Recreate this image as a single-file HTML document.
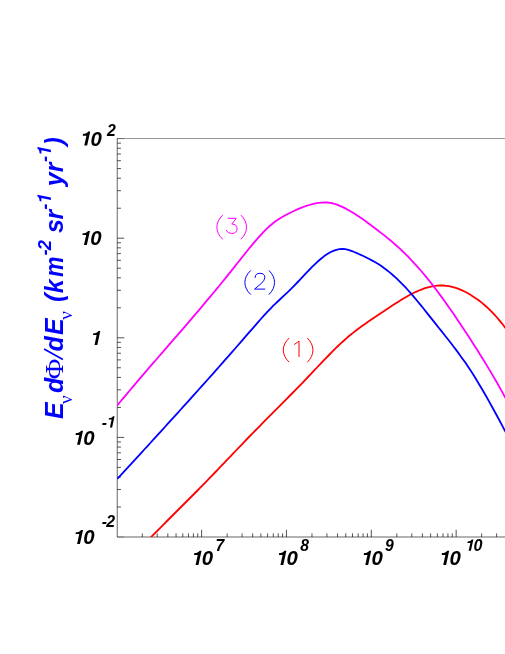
<!DOCTYPE html>
<html><head><meta charset="utf-8"><title>Neutrino flux</title>
<style>html,body{margin:0;padding:0;background:#fff;}body{width:505px;height:654px;overflow:hidden;font-family:"Liberation Sans",sans-serif;}svg{display:block;will-change:transform;}</style></head>
<body>
<svg width="505" height="654" viewBox="0 0 505 654">
<rect width="505" height="654" fill="#fff"/>
<path d="M510,138.54999999999998L116.95,138.54999999999998" fill="none" stroke="#000" stroke-width="0.42"/>
<path d="M117.25,138.35L117.25,537.0L510,537.0" fill="none" stroke="#000" stroke-width="0.6"/>
<path d="M117.25,138.54999999999998L124.25,138.54999999999998M117.25,537.0L124.25,537.0" fill="none" stroke="#000" stroke-width="0.3"/>
<path d="M117.25,208.22L120.95,208.22 M117.25,190.68L120.95,190.68 M117.25,178.23L120.95,178.23 M117.25,168.58L120.95,168.58 M117.25,160.70L120.95,160.70 M117.25,154.03L120.95,154.03 M117.25,148.25L120.95,148.25 M117.25,143.16L120.95,143.16 M117.25,238.20L124.25,238.20 M117.25,307.82L120.95,307.82 M117.25,290.28L120.95,290.28 M117.25,277.83L120.95,277.83 M117.25,268.18L120.95,268.18 M117.25,260.30L120.95,260.30 M117.25,253.63L120.95,253.63 M117.25,247.85L120.95,247.85 M117.25,242.76L120.95,242.76 M117.25,337.80L124.25,337.80 M117.25,407.42L120.95,407.42 M117.25,389.88L120.95,389.88 M117.25,377.43L120.95,377.43 M117.25,367.78L120.95,367.78 M117.25,359.90L120.95,359.90 M117.25,353.23L120.95,353.23 M117.25,347.45L120.95,347.45 M117.25,342.36L120.95,342.36 M117.25,437.40L124.25,437.40 M117.25,507.02L120.95,507.02 M117.25,489.48L120.95,489.48 M117.25,477.03L120.95,477.03 M117.25,467.38L120.95,467.38 M117.25,459.50L120.95,459.50 M117.25,452.83L120.95,452.83 M117.25,447.05L120.95,447.05 M117.25,441.96L120.95,441.96 M142.29,537.00L142.29,533.40 M157.23,537.00L157.23,533.40 M167.83,537.00L167.83,533.40 M176.06,537.00L176.06,533.40 M182.78,537.00L182.78,533.40 M188.46,537.00L188.46,533.40 M193.38,537.00L193.38,533.40 M197.72,537.00L197.72,533.40 M201.60,537.00L201.60,529.80 M227.14,537.00L227.14,533.40 M242.08,537.00L242.08,533.40 M252.68,537.00L252.68,533.40 M260.91,537.00L260.91,533.40 M267.63,537.00L267.63,533.40 M273.31,537.00L273.31,533.40 M278.23,537.00L278.23,533.40 M282.57,537.00L282.57,533.40 M286.45,537.00L286.45,529.80 M311.99,537.00L311.99,533.40 M326.93,537.00L326.93,533.40 M337.53,537.00L337.53,533.40 M345.76,537.00L345.76,533.40 M352.48,537.00L352.48,533.40 M358.16,537.00L358.16,533.40 M363.08,537.00L363.08,533.40 M367.42,537.00L367.42,533.40 M371.30,537.00L371.30,529.80 M396.84,537.00L396.84,533.40 M411.78,537.00L411.78,533.40 M422.38,537.00L422.38,533.40 M430.61,537.00L430.61,533.40 M437.33,537.00L437.33,533.40 M443.01,537.00L443.01,533.40 M447.93,537.00L447.93,533.40 M452.27,537.00L452.27,533.40 M456.15,537.00L456.15,529.80 M481.69,537.00L481.69,533.40 M496.63,537.00L496.63,533.40" fill="none" stroke="#000" stroke-width="0.68"/>
<clipPath id="c"><rect x="117.2" y="138.6" width="400" height="398.4"/></clipPath>
<g clip-path="url(#c)" fill="none" stroke-width="1.8" stroke-linejoin="round">
<path d="M146.0,542.4 L149.0,539.3 L152.0,536.2 L155.0,533.2 L158.0,530.1 L161.0,527.1 L164.0,524.1 L167.0,521.0 L170.0,518.0 L173.0,515.0 L176.0,512.0 L179.0,509.0 L182.0,506.0 L185.0,503.0 L188.0,500.0 L191.0,497.0 L194.0,494.0 L197.0,491.0 L200.0,487.9 L203.0,484.9 L206.0,481.8 L209.0,478.7 L212.0,475.6 L215.0,472.5 L218.0,469.4 L221.0,466.2 L224.0,463.1 L227.0,459.9 L230.0,456.8 L233.0,453.7 L236.0,450.5 L239.0,447.4 L242.0,444.3 L245.0,441.1 L248.0,438.0 L251.0,434.9 L254.0,431.9 L257.0,428.8 L260.0,425.8 L263.0,422.7 L266.0,419.7 L269.0,416.7 L272.0,413.7 L275.0,410.6 L278.0,407.6 L281.0,404.6 L284.0,401.6 L287.0,398.6 L290.0,395.5 L293.0,392.5 L296.0,389.4 L299.0,386.3 L302.0,383.3 L305.0,380.1 L308.0,377.0 L311.0,373.9 L314.0,370.7 L317.0,367.5 L320.0,364.4 L323.0,361.2 L326.0,358.1 L329.0,355.0 L332.0,351.9 L335.0,348.9 L338.0,346.0 L341.0,343.2 L344.0,340.5 L347.0,337.8 L350.0,335.3 L353.0,332.9 L356.0,330.5 L359.0,328.2 L362.0,326.0 L365.0,323.9 L368.0,321.8 L371.0,319.7 L374.0,317.7 L377.0,315.7 L380.0,313.7 L383.0,311.8 L386.0,309.8 L389.0,307.8 L392.0,305.8 L395.0,303.8 L398.0,301.9 L401.0,300.0 L404.0,298.2 L407.0,296.5 L410.0,294.8 L413.0,293.2 L416.0,291.8 L419.0,290.5 L422.0,289.3 L425.0,288.2 L428.0,287.3 L431.0,286.6 L434.0,286.1 L437.0,285.7 L440.0,285.5 L443.0,285.5 L446.0,285.8 L449.0,286.2 L452.0,286.9 L455.0,287.7 L458.0,288.7 L461.0,289.9 L464.0,291.3 L467.0,292.8 L470.0,294.5 L473.0,296.4 L476.0,298.4 L479.0,300.6 L482.0,302.9 L485.0,305.5 L488.0,308.2 L491.0,311.1 L494.0,314.2 L497.0,317.5 L500.0,321.1 L503.0,324.8 L506.0,328.8 L509.0,333.0 L512.0,337.5" stroke="#ff0000"/>
<path d="M117.3,479.0 L120.3,475.7 L123.3,472.4 L126.3,469.2 L129.3,465.9 L132.3,462.6 L135.3,459.4 L138.3,456.1 L141.3,452.8 L144.3,449.5 L147.3,446.3 L150.3,443.0 L153.3,439.7 L156.3,436.4 L159.3,433.1 L162.3,429.8 L165.3,426.5 L168.3,423.2 L171.3,419.9 L174.3,416.6 L177.3,413.3 L180.3,410.0 L183.3,406.7 L186.3,403.4 L189.3,400.1 L192.3,396.7 L195.3,393.4 L198.3,390.0 L201.3,386.7 L204.3,383.4 L207.3,380.0 L210.3,376.6 L213.3,373.3 L216.3,369.9 L219.3,366.5 L222.3,363.1 L225.3,359.7 L228.3,356.3 L231.3,352.9 L234.3,349.5 L237.3,346.0 L240.3,342.6 L243.3,339.2 L246.3,335.7 L249.3,332.2 L252.3,328.8 L255.3,325.3 L258.3,321.9 L261.3,318.5 L264.3,315.1 L267.3,311.9 L270.3,308.8 L273.3,305.7 L276.3,302.8 L279.3,300.0 L282.3,297.2 L285.3,294.4 L288.3,291.6 L291.3,288.7 L294.3,285.6 L297.3,282.5 L300.3,279.3 L303.3,276.1 L306.3,272.9 L309.3,269.8 L312.3,266.7 L315.3,263.8 L318.3,261.0 L321.3,258.5 L324.3,256.1 L327.3,254.1 L330.3,252.3 L333.3,250.9 L336.3,249.8 L339.3,249.2 L342.3,249.0 L345.3,249.2 L348.3,249.9 L351.3,250.9 L354.3,252.0 L357.3,253.3 L360.3,254.7 L363.3,256.0 L366.3,257.5 L369.3,259.0 L372.3,260.6 L375.3,262.3 L378.3,264.1 L381.3,266.0 L384.3,268.2 L387.3,270.5 L390.3,272.9 L393.3,275.5 L396.3,278.2 L399.3,281.1 L402.3,284.1 L405.3,287.2 L408.3,290.5 L411.3,293.9 L414.3,297.4 L417.3,301.0 L420.3,304.6 L423.3,308.3 L426.3,312.1 L429.3,315.9 L432.3,319.6 L435.3,323.4 L438.3,327.2 L441.3,330.9 L444.3,334.7 L447.3,338.5 L450.3,342.3 L453.3,346.2 L456.3,350.1 L459.3,354.2 L462.3,358.4 L465.3,362.6 L468.3,367.1 L471.3,371.6 L474.3,376.3 L477.3,381.2 L480.3,386.2 L483.3,391.3 L486.3,396.5 L489.3,401.9 L492.3,407.3 L495.3,412.8 L498.3,418.3 L501.3,423.9 L504.3,429.6 L507.3,435.3 L510.3,441.0" stroke="#0000ff"/>
<path d="M117.3,405.4 L120.3,401.7 L123.3,398.1 L126.3,394.6 L129.3,391.0 L132.3,387.4 L135.3,383.9 L138.3,380.4 L141.3,376.9 L144.3,373.4 L147.3,369.9 L150.3,366.4 L153.3,362.9 L156.3,359.5 L159.3,356.0 L162.3,352.6 L165.3,349.1 L168.3,345.6 L171.3,342.2 L174.3,338.7 L177.3,335.3 L180.3,331.8 L183.3,328.3 L186.3,324.9 L189.3,321.4 L192.3,317.9 L195.3,314.4 L198.3,310.8 L201.3,307.3 L204.3,303.7 L207.3,300.2 L210.3,296.6 L213.3,293.0 L216.3,289.4 L219.3,285.7 L222.3,282.0 L225.3,278.4 L228.3,274.6 L231.3,270.9 L234.3,267.1 L237.3,263.3 L240.3,259.6 L243.3,255.8 L246.3,252.0 L249.3,248.3 L252.3,244.7 L255.3,241.1 L258.3,237.6 L261.3,234.3 L264.3,231.1 L267.3,228.2 L270.3,225.5 L273.3,223.0 L276.3,220.8 L279.3,218.8 L282.3,217.0 L285.3,215.3 L288.3,213.7 L291.3,212.2 L294.3,210.8 L297.3,209.4 L300.3,208.2 L303.3,207.0 L306.3,205.9 L309.3,205.0 L312.3,204.1 L315.3,203.4 L318.3,202.9 L321.3,202.6 L324.3,202.4 L327.3,202.5 L330.3,202.9 L333.3,203.5 L336.3,204.4 L339.3,205.6 L342.3,206.9 L345.3,208.4 L348.3,210.0 L351.3,211.7 L354.3,213.6 L357.3,215.5 L360.3,217.5 L363.3,219.6 L366.3,221.7 L369.3,223.9 L372.3,226.2 L375.3,228.4 L378.3,230.7 L381.3,233.1 L384.3,235.4 L387.3,237.9 L390.3,240.3 L393.3,242.9 L396.3,245.5 L399.3,248.2 L402.3,251.0 L405.3,253.9 L408.3,256.9 L411.3,260.1 L414.3,263.3 L417.3,266.6 L420.3,270.0 L423.3,273.5 L426.3,277.1 L429.3,280.8 L432.3,284.6 L435.3,288.5 L438.3,292.5 L441.3,296.6 L444.3,300.7 L447.3,304.9 L450.3,309.2 L453.3,313.6 L456.3,318.0 L459.3,322.5 L462.3,327.0 L465.3,331.6 L468.3,336.1 L471.3,340.8 L474.3,345.4 L477.3,350.1 L480.3,354.9 L483.3,359.7 L486.3,364.6 L489.3,369.6 L492.3,374.6 L495.3,379.8 L498.3,385.0 L501.3,390.4 L504.3,395.9 L507.3,401.5 L510.3,407.3" stroke="#ff00ff"/>
</g>
<g fill="none" stroke="#ff00ff" stroke-width="1.0" stroke-linecap="round" stroke-linejoin="round"><path transform="translate(216.5,215.4)" d="M6,0 C-1.6,7 -1.6,16.6 6,23.6"/><path transform="translate(228.1,218.3)" d="M0,0 L8.1,0 L3.7,5.8 Q8.9,5.6 8.9,10.2 Q8.9,15.2 3.7,15.2 Q-0.6,15.2 -1.9,12.1"/><path transform="translate(241.2,215.4)" d="M0,0 C7.2,7 7.2,16.6 0,23.6"/></g>
<g fill="none" stroke="#0000ff" stroke-width="1.0" stroke-linecap="round" stroke-linejoin="round"><path transform="translate(244.5,270.7)" d="M6,0 C-1.6,7 -1.6,16.6 6,23.6"/><path transform="translate(254.5,273.3)" d="M0.6,4.2 Q0.8,0 5.3,0 Q10.3,0 10.3,4.2 Q10.3,6.8 7,10 L0,15.8 L10.3,15.8"/><path transform="translate(269.2,270.7)" d="M0,0 C7.2,7 7.2,16.6 0,23.6"/></g>
<g fill="none" stroke="#ff0000" stroke-width="1.0" stroke-linecap="round" stroke-linejoin="round"><path transform="translate(282.9,338.3)" d="M6,0 C-1.6,7 -1.6,16.6 6,23.6"/><path transform="translate(294.5,341.0)" d="M0,3.3 Q3,1.6 4.5,0 L4.5,15.6"/><path transform="translate(307.6,338.3)" d="M0,0 C7.2,7 7.2,16.6 0,23.6"/></g>
<g font-family="Liberation Sans, sans-serif" font-weight="bold" font-style="italic" fill="#000">
<g transform="translate(79.10,145.60) scale(1.03,1)"><path transform="translate(0.00,0)" d="M7.80,0.00L5.03,0.00L7.13,-9.90L3.49,-9.90L3.89,-11.80C6.18,-11.84 7.95,-12.43 8.94,-14.10L10.80,-14.10Z" stroke="none"/><text x="11.01" y="0" font-size="19.8">0</text></g><g transform="translate(106.90,136.00) scale(1.0,1)"><text x="0.00" y="0" font-size="15.8">2</text></g>
<g transform="translate(78.80,245.00) scale(1.03,1)"><path transform="translate(0.00,0)" d="M7.80,0.00L5.03,0.00L7.13,-9.90L3.49,-9.90L3.89,-11.80C6.18,-11.84 7.95,-12.43 8.94,-14.10L10.80,-14.10Z" stroke="none"/><text x="11.01" y="0" font-size="19.8">0</text></g>
<g transform="translate(89.50,345.00) scale(1.0,1)"><path transform="translate(0.00,0)" d="M7.80,0.00L5.03,0.00L7.13,-9.90L3.49,-9.90L3.89,-11.80C6.18,-11.84 7.95,-12.43 8.94,-14.10L10.80,-14.10Z" stroke="none"/></g>
<g transform="translate(71.90,444.80) scale(1.03,1)"><path transform="translate(0.00,0)" d="M7.80,0.00L5.03,0.00L7.13,-9.90L3.49,-9.90L3.89,-11.80C6.18,-11.84 7.95,-12.43 8.94,-14.10L10.80,-14.10Z" stroke="none"/><text x="11.01" y="0" font-size="19.8">0</text></g><g transform="translate(101.80,427.50) scale(1.0,1)"><text x="0.00" y="0" font-size="15.8">-</text><path transform="translate(4.11,0)" d="M6.23,0.00L4.01,0.00L5.69,-7.90L2.79,-7.90L3.11,-9.42C4.93,-9.45 6.34,-9.92 7.13,-11.25L8.62,-11.25Z" stroke="none"/></g>
<g transform="translate(71.90,544.00) scale(1.03,1)"><path transform="translate(0.00,0)" d="M7.80,0.00L5.03,0.00L7.13,-9.90L3.49,-9.90L3.89,-11.80C6.18,-11.84 7.95,-12.43 8.94,-14.10L10.80,-14.10Z" stroke="none"/><text x="11.01" y="0" font-size="19.8">0</text></g><g transform="translate(101.80,526.90) scale(1.0,1)"><text x="0.00" y="0" font-size="15.8">-</text><text x="4.42" y="0" font-size="15.8">2</text></g>
<g transform="translate(190.40,564.90) scale(1.03,1)"><path transform="translate(0.00,0)" d="M7.80,0.00L5.03,0.00L7.13,-9.90L3.49,-9.90L3.89,-11.80C6.18,-11.84 7.95,-12.43 8.94,-14.10L10.80,-14.10Z" stroke="none"/><text x="11.01" y="0" font-size="19.8">0</text></g><g transform="translate(215.40,550.80) scale(1.0,1)"><text x="0.00" y="0" font-size="15.7">7</text></g>
<g transform="translate(275.25,564.90) scale(1.03,1)"><path transform="translate(0.00,0)" d="M7.80,0.00L5.03,0.00L7.13,-9.90L3.49,-9.90L3.89,-11.80C6.18,-11.84 7.95,-12.43 8.94,-14.10L10.80,-14.10Z" stroke="none"/><text x="11.01" y="0" font-size="19.8">0</text></g><g transform="translate(300.25,550.80) scale(1.0,1)"><text x="0.00" y="0" font-size="15.7">8</text></g>
<g transform="translate(360.10,564.90) scale(1.03,1)"><path transform="translate(0.00,0)" d="M7.80,0.00L5.03,0.00L7.13,-9.90L3.49,-9.90L3.89,-11.80C6.18,-11.84 7.95,-12.43 8.94,-14.10L10.80,-14.10Z" stroke="none"/><text x="11.01" y="0" font-size="19.8">0</text></g><g transform="translate(385.10,550.80) scale(1.0,1)"><text x="0.00" y="0" font-size="15.7">9</text></g>
<g transform="translate(438.05,564.90) scale(1.03,1)"><path transform="translate(0.00,0)" d="M7.80,0.00L5.03,0.00L7.13,-9.90L3.49,-9.90L3.89,-11.80C6.18,-11.84 7.95,-12.43 8.94,-14.10L10.80,-14.10Z" stroke="none"/><text x="11.01" y="0" font-size="19.8">0</text></g><g transform="translate(464.55,550.80) scale(1.03,1)"><path transform="translate(0.00,0)" d="M6.19,0.00L3.99,0.00L5.66,-7.85L2.77,-7.85L3.09,-9.36C4.90,-9.39 6.30,-9.86 7.09,-11.18L8.56,-11.18Z" stroke="none"/><text x="8.73" y="0" font-size="15.7">0</text></g>
</g>
<g transform="translate(62.7,419.7) rotate(-90)" fill="#0000ff" font-family="Liberation Sans, sans-serif" font-weight="bold" font-style="italic" font-size="26">
<text id="tE1" transform="translate(0.75,0) scale(0.96,1)">E</text>
<text id="tn1" transform="translate(15.75,9.0)" font-family="Liberation Serif, serif" font-weight="normal" font-style="normal" font-size="19">ν</text>
<text id="td1" transform="translate(26.75,0) scale(0.96,1)">d</text>
<text id="tPhi" transform="translate(40.40,0) scale(1.10,1)" font-family="Liberation Serif, serif" font-weight="normal" font-style="normal" font-size="25.5">Φ</text>
<path id="tsl" transform="translate(60.30,0)" d="M0,0.2L10.4,-18.6" stroke="#0000ff" stroke-width="1.7" fill="none"/>
<text id="td2" transform="translate(68.10,0) scale(0.96,1)">d</text>
<text id="tE2" transform="translate(84.60,0) scale(0.96,1)">E</text>
<text id="tn2" transform="translate(100.00,9.0)" font-family="Liberation Serif, serif" font-weight="normal" font-style="normal" font-size="19">ν</text>
<text id="tpl" transform="translate(117.75,0) scale(0.96,1)">(</text>
<text id="tk" transform="translate(126.50,0) scale(0.96,1)">k</text>
<text id="tm" transform="translate(142.75,0) scale(0.89,1)">m</text>
<g id="tu2" transform="translate(164.25,-11.80) scale(0.96,1)"><text x="0.00" y="0" font-size="19">-</text><text x="5.32" y="0" font-size="19">2</text></g>
<text id="ts" transform="translate(186.75,0) scale(0.96,1)">s</text>
<text id="tr1" transform="translate(200.25,0) scale(0.96,1)">r</text>
<g id="tu1a" transform="translate(210.00,-11.80) scale(0.96,1)"><text x="0.00" y="0" font-size="19">-</text><path transform="translate(5.32,0)" d="M7.49,0.00L4.83,0.00L6.85,-9.50L3.35,-9.50L3.74,-11.32C5.93,-11.36 7.63,-11.93 8.58,-13.53L10.36,-13.53Z" stroke="none"/></g>
<text id="ty" transform="translate(233.50,0) scale(0.96,1)">y</text>
<text id="tr2" transform="translate(247.50,0) scale(0.96,1)">r</text>
<g id="tu1b" transform="translate(257.75,-11.80) scale(0.96,1)"><text x="0.00" y="0" font-size="19">-</text><path transform="translate(5.32,0)" d="M7.49,0.00L4.83,0.00L6.85,-9.50L3.35,-9.50L3.74,-11.32C5.93,-11.36 7.63,-11.93 8.58,-13.53L10.36,-13.53Z" stroke="none"/></g>
<text id="tpr" transform="translate(274.25,0) scale(0.96,1)">)</text>
</g>
</svg>
</body></html>
